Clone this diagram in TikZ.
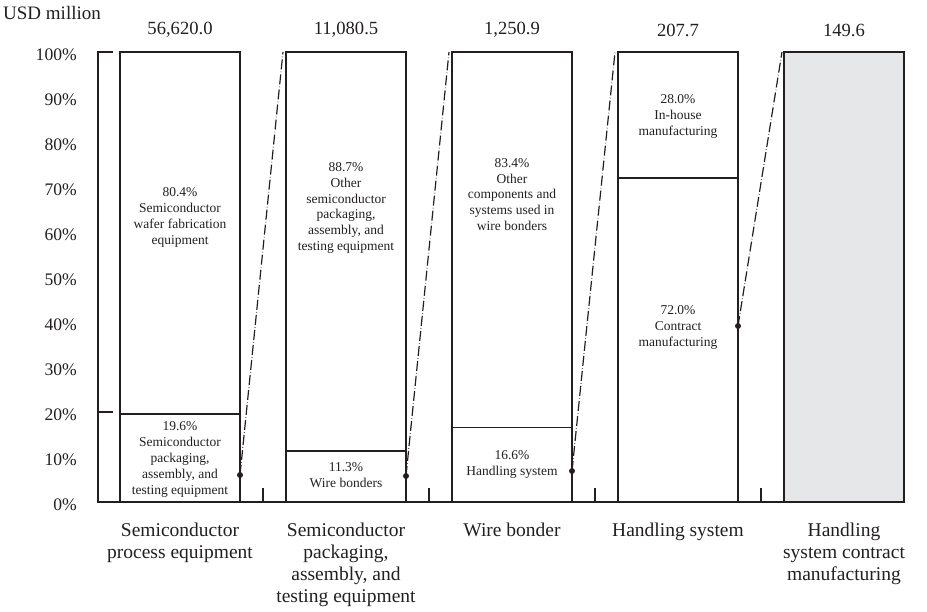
\documentclass[tikz,border=0pt]{standalone}
\usepackage{fontspec}
\setmainfont{Liberation Serif}
\usetikzlibrary{calc}
\definecolor{ink}{HTML}{231F20}
\definecolor{barfill}{HTML}{E6E7E8}

\begin{document}
\begin{tikzpicture}[x=1pt,y=-1pt,
  barbox/.style={draw=ink, line width=1.5pt, minimum width=120pt, minimum height=450pt,
                 inner sep=0pt, outer sep=0pt},
  rule/.style={draw=ink, line width=1.5pt},
  link/.style={draw=ink, line width=1.2pt, dash pattern=on 10pt off 2.3pt on 0.5pt off 2.3pt},
  dotmark/.style={fill=ink},
  inlabel/.style={font=\fontsize{13.5}{15.8}\selectfont, align=center, text=ink, inner sep=0pt},
  catlabel/.style={font=\fontsize{19.5}{22}\selectfont, align=center, text=ink, inner sep=0pt},
  totlabel/.style={font=\fontsize{18.6}{22}\selectfont, text=ink, inner sep=0pt},
  axlabel/.style={font=\fontsize{17.6}{20}\selectfont, text=ink, inner sep=0pt, anchor=east}]

\useasboundingbox (0,0) rectangle (927,611);

% axis
\draw[rule] (113,52) -- (98,52) -- (98,502) -- (904,502);
\draw[rule] (98,412) -- (113,412);
\foreach \x in {263,429,595,761} \draw[rule] (\x,502) -- (\x,488);

\node[font=\fontsize{19}{22}\selectfont, text=ink, inner sep=0pt, anchor=west] (unit) at (3,13) {USD million};
\foreach \p in {0,10,...,100}
  \node[axlabel] (ax\p) at (77,{505-4.5*\p}) {\p\%};

% bars
\node[barbox] (b1) at (180,277) {};
\node[barbox] (b2) at (346,277) {};
\node[barbox] (b3) at (512,277) {};
\node[barbox] (b4) at (678,277) {};
\node[barbox, fill=barfill] (b5) at (844,277) {};

% segment boundaries
\draw[rule] (b1.west |- 0,413.8) -- (b1.east |- 0,413.8);
\draw[rule] (b2.west |- 0,451.2) -- (b2.east |- 0,451.2);
\draw[rule] (b3.west |- 0,427.3) -- (b3.east |- 0,427.3);
\draw[rule] (b4.west |- 0,178) -- (b4.east |- 0,178);

% totals
\node[totlabel] (t1) at (180,30) {56,620.0};
\node[totlabel] (t2) at (346,30) {11,080.5};
\node[totlabel] (t3) at (512,30) {1,250.9};
\node[totlabel] (t4) at (678,30) {207.7};
\node[totlabel] (t5) at (844,30) {149.6};

% segment labels
\node[inlabel] (s1a) at (180,217.5) {80.4\%\\Semiconductor\\wafer fabrication\\equipment};
\node[inlabel] (s1b) at (180,459.5) {19.6\%\\Semiconductor\\packaging,\\assembly, and\\testing equipment};
\node[inlabel] (s2a) at (346,208) {88.7\%\\Other\\semiconductor\\packaging,\\assembly, and\\testing equipment};
\node[inlabel] (s2b) at (346,475) {11.3\%\\Wire bonders};
\node[inlabel] (s3a) at (512,194.5) {83.4\%\\Other\\components and\\systems used in\\wire bonders};
\node[inlabel] (s3b) at (512,464.5) {16.6\%\\Handling system};
\node[inlabel] (s4a) at (678,116.5) {28.0\%\\In-house\\manufacturing};
\node[inlabel] (s4b) at (678,327.5) {72.0\%\\Contract\\manufacturing};

% category names
\node[catlabel, anchor=north] (c1) at (180,523) {Semiconductor\\process equipment};
\node[catlabel, anchor=north] (c2) at (346,523) {Semiconductor\\packaging,\\assembly, and\\testing equipment};
\node[catlabel, anchor=north] (c3) at (512,523) {Wire bonder};
\node[catlabel, anchor=north] (c4) at (678,523) {Handling system};
\node[catlabel, anchor=north] (c5) at (844,523) {Handling\\system contract\\manufacturing};

% drill-down links
\coordinate (d1) at (240,475);
\coordinate (d2) at (406,476);
\coordinate (d3) at (572,471);
\coordinate (d4) at (738,326);
\draw[link] (d1) -- ($(b2.north west)+(-3,0)$);
\draw[link] (d2) -- ($(b3.north west)+(-3,0)$);
\draw[link] (d3) -- ($(b4.north west)+(-3,0)$);
\draw[link] (d4) -- ($(b5.north west)+(-2,0)$);
\foreach \d in {d1,d2,d3,d4} \fill[dotmark] (\d) circle (3pt);

\end{tikzpicture}
\end{document}
